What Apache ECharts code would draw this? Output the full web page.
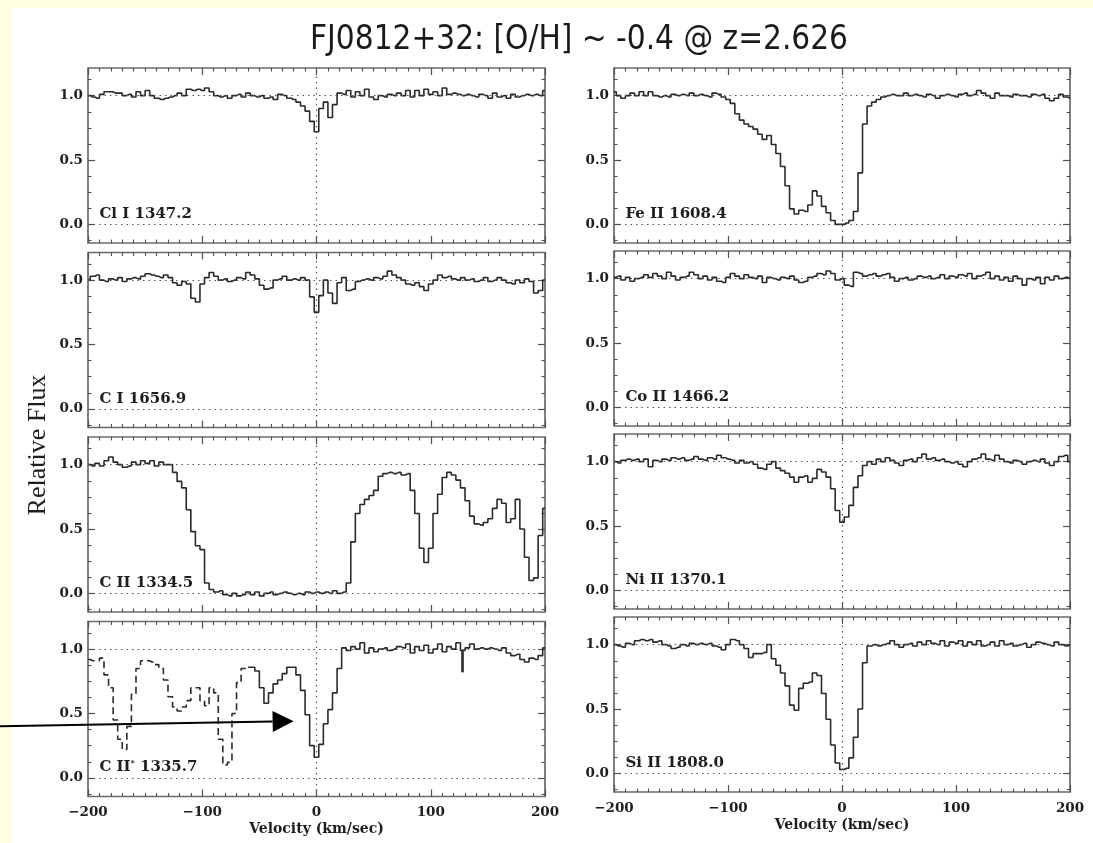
<!DOCTYPE html>
<html>
<head>
<meta charset="utf-8">
<script src="https://cdn.jsdelivr.net/npm/echarts@6/dist/echarts.min.js"></script>
<style>
html,body{margin:0;padding:0;background:#fffde2;}
#frame{position:absolute;left:12px;top:8px;right:0;bottom:0;background:#ffffff;}
#chart{position:absolute;left:0;top:0;width:1093px;height:843px;}
</style>
</head>
<body>
<div id="frame"></div>
<div id="chart"></div>
<script>
// ---------------- DATA ----------------
const TITLE = 'FJ0812+32: [O/H] ~ -0.4 @ z=2.626';
const Y_AXIS_TITLE = 'Relative Flux';
const X_AXIS_TITLE = 'Velocity (km/sec)';
const X_TICKS = [-200, -100, 0, 100, 200];
const Y_TICKS_MAJOR = [0, 0.5, 1.0];
const Y_TICKS_MINOR = [-0.125, 0.125, 0.25, 0.375, 0.625, 0.75, 0.875, 1.125];

const velocity = [
  -200,-196,-192,-188,-184,-180,-176,-172,-168,-164,
  -160,-156,-152,-148,-144,-140,-136,-132,-128,-124,
  -120,-116,-112,-108,-104,-100,-96,-92,-88,-84,
  -80,-76,-72,-68,-64,-60,-56,-52,-48,-44,
  -40,-36,-32,-28,-24,-20,-16,-12,-8,-4,
  0,4,8,12,16,20,24,28,32,36,
  40,44,48,52,56,60,64,68,72,76,
  80,84,88,92,96,100,104,108,112,116,
  120,124,128,132,136,140,144,148,152,156,
  160,164,168,172,176,180,184,188,192,196,
  200
];

const fluxClI = [
  1.00,0.99,0.98,1.01,1.03,1.03,1.02,1.02,1.00,1.01,
  0.99,1.03,1.00,1.04,1.00,0.98,0.97,0.98,0.99,1.00,
  1.02,1.00,1.05,1.04,1.05,1.04,1.06,1.03,1.00,0.99,
  1.00,0.98,1.00,1.01,0.99,1.02,1.00,0.99,1.00,0.98,
  0.99,0.97,1.01,1.00,0.98,0.97,0.95,0.92,0.88,0.80,
  0.72,0.90,0.95,0.83,0.93,1.02,1.01,1.04,0.99,1.03,
  1.00,1.05,0.99,0.97,1.00,0.99,1.01,1.00,1.02,1.00,
  1.04,0.99,1.04,1.00,1.05,1.01,1.03,1.00,1.06,1.01,
  1.02,1.01,1.00,1.01,1.00,0.99,1.01,1.00,0.98,1.02,
  0.99,1.00,0.98,1.01,0.99,1.00,1.01,1.00,1.01,1.00,
  1.04
];

const fluxCI = [
  1.00,1.03,1.04,1.00,0.99,1.01,1.00,1.02,0.99,1.01,
  1.02,1.01,1.03,1.05,1.04,1.03,1.02,1.04,1.02,0.98,
  0.96,0.99,0.97,0.86,0.83,0.97,1.02,1.06,1.03,1.00,
  1.01,0.99,1.00,1.02,1.01,1.06,1.04,1.01,0.96,0.93,
  0.94,1.00,1.01,1.03,1.00,1.01,1.00,1.02,1.00,0.87,
  0.75,0.88,1.00,0.90,0.82,0.98,1.02,0.92,0.93,0.99,
  1.00,1.01,1.00,1.02,1.01,1.03,1.07,1.04,1.02,1.00,
  0.97,0.96,0.98,0.95,0.92,0.97,1.00,1.04,1.02,1.03,
  1.01,1.00,1.02,1.00,1.01,0.99,1.00,1.02,0.99,1.00,
  1.02,1.00,0.98,0.97,1.00,0.98,1.01,0.99,0.90,0.92,
  1.00
];

const fluxCII = [
  1.00,0.99,1.01,0.99,1.03,1.06,1.02,1.00,0.98,0.99,
  1.02,1.00,1.03,1.01,1.03,0.99,1.02,1.00,1.00,0.94,
  0.87,0.82,0.65,0.48,0.37,0.34,0.08,0.03,0.01,0.02,
  -0.01,-0.02,0.00,-0.02,-0.01,0.01,-0.01,0.01,-0.02,0.00,
  0.01,-0.01,0.00,0.01,0.00,-0.01,0.00,-0.01,0.01,0.00,
  0.01,0.00,0.01,0.00,0.02,0.00,0.01,0.08,0.40,0.62,
  0.69,0.73,0.76,0.80,0.91,0.93,0.94,0.93,0.94,0.92,
  0.93,0.80,0.62,0.35,0.24,0.35,0.62,0.77,0.90,0.94,
  0.92,0.88,0.82,0.72,0.60,0.54,0.53,0.55,0.58,0.66,
  0.73,0.70,0.55,0.58,0.73,0.50,0.28,0.10,0.12,0.45,
  0.66
];

const fluxCIIstar = [
  0.92,0.91,0.91,0.93,0.80,0.70,0.45,0.30,0.22,0.40,
  0.65,0.85,0.91,0.91,0.90,0.88,0.85,0.76,0.63,0.55,
  0.52,0.55,0.60,0.70,0.70,0.60,0.56,0.70,0.66,0.30,
  0.10,0.12,0.50,0.74,0.85,0.86,0.86,0.83,0.70,0.58,
  0.66,0.73,0.76,0.81,0.86,0.86,0.80,0.68,0.49,0.25,
  0.16,0.26,0.42,0.53,0.66,0.85,1.01,0.99,1.02,1.00,
  1.05,0.97,1.01,0.98,1.00,1.01,0.99,1.00,1.02,1.01,
  1.04,0.97,1.02,0.99,1.03,0.97,1.00,1.04,0.98,1.02,
  1.00,1.05,0.99,1.01,1.04,1.00,1.01,1.00,1.01,1.00,
  0.99,1.01,0.97,0.95,0.96,0.92,0.90,0.93,0.92,0.95,
  1.01
];

const fluxFeII = [
  1.03,1.00,0.98,1.00,1.02,1.00,1.03,1.00,1.03,1.00,
  0.99,1.00,0.99,1.01,1.00,1.01,1.00,1.02,1.00,1.01,
  1.00,0.99,1.02,1.01,0.99,0.97,0.94,0.86,0.81,0.78,
  0.76,0.74,0.70,0.66,0.69,0.62,0.55,0.45,0.30,0.12,
  0.08,0.11,0.10,0.15,0.26,0.22,0.14,0.09,0.03,0.00,
  0.00,0.01,0.03,0.10,0.40,0.78,0.92,0.95,0.97,0.99,
  1.00,1.01,1.00,1.00,1.02,1.00,1.01,1.00,0.99,1.01,
  1.00,0.98,1.00,1.01,1.00,0.99,1.01,1.02,1.00,1.01,
  1.04,1.02,1.00,0.98,1.02,1.00,1.00,0.99,1.01,1.00,
  1.00,0.99,1.01,1.00,1.01,0.98,0.96,0.98,1.01,0.99,
  0.98
];

const fluxCoII = [
  1.01,1.02,0.99,1.01,0.98,1.00,1.01,1.03,1.01,1.04,
  1.02,1.00,1.05,1.02,0.99,1.01,1.02,1.05,1.03,1.00,
  1.02,0.99,1.01,0.98,0.97,1.01,1.04,1.02,1.00,1.03,
  1.01,1.00,1.02,0.97,1.01,1.00,0.99,1.01,1.00,1.02,
  0.99,0.97,0.98,1.01,1.02,1.04,1.03,1.06,1.04,0.99,
  1.00,0.95,0.94,1.05,1.04,1.02,1.03,1.04,1.02,1.03,
  1.04,1.01,0.98,1.00,1.01,0.99,1.00,1.02,1.01,1.02,
  1.00,1.01,1.03,1.00,1.02,1.01,1.03,1.02,1.04,1.00,
  1.02,1.03,1.05,1.00,1.02,0.99,1.01,0.98,1.02,1.00,
  0.95,1.00,0.99,1.01,0.96,1.01,0.99,1.02,1.00,1.01,
  1.00
];

const fluxNiII = [
  1.00,0.99,1.01,1.02,1.01,1.02,1.00,1.02,0.96,1.01,
  1.00,1.02,1.01,1.03,1.02,1.03,1.01,1.02,1.04,1.02,
  1.01,1.03,1.02,1.05,1.03,1.02,1.01,0.99,1.01,0.99,
  1.00,0.98,0.95,0.94,0.98,1.00,0.95,0.93,0.91,0.88,
  0.84,0.88,0.89,0.84,0.87,0.94,0.92,0.88,0.79,0.62,
  0.53,0.57,0.66,0.80,0.89,0.97,1.00,0.98,1.02,1.00,
  1.03,1.01,0.99,0.97,1.01,1.02,1.00,1.03,1.06,1.02,
  1.03,1.01,1.02,1.00,0.99,1.00,0.98,0.96,1.00,1.02,
  1.03,1.06,1.02,1.01,1.05,1.02,1.00,0.99,1.01,1.00,
  0.98,1.00,1.01,1.00,1.02,0.99,0.97,1.00,1.04,1.05,
  1.00
];

const fluxSiII = [
  1.00,0.99,0.98,1.01,1.00,1.03,1.04,1.03,1.04,1.02,
  1.03,1.00,0.99,0.97,0.98,1.00,0.99,1.01,1.00,1.01,
  1.00,1.01,0.99,0.98,0.96,1.00,1.04,1.03,1.00,0.97,
  0.90,0.93,0.93,0.94,1.00,0.89,0.84,0.78,0.68,0.53,
  0.49,0.66,0.70,0.71,0.78,0.76,0.62,0.42,0.22,0.08,
  0.03,0.04,0.12,0.28,0.50,0.86,0.99,1.00,0.99,1.00,
  1.01,1.03,1.00,0.98,1.00,1.01,0.99,1.02,1.00,1.03,
  1.01,1.00,1.03,0.99,1.02,1.01,1.03,0.99,1.02,1.00,
  1.03,0.99,1.00,1.02,0.99,1.03,1.00,1.01,0.99,1.00,
  1.01,0.98,1.00,1.02,1.01,1.00,0.99,1.02,1.00,0.99,
  1.00
];

const panelLabels = ['Cl I 1347.2', 'C I 1656.9', 'C II 1334.5', 'C II{sup|*} 1335.7',
                     'Fe II 1608.4', 'Co II 1466.2', 'Ni II 1370.1', 'Si II 1808.0'];
const panelFlux = [fluxClI, fluxCI, fluxCII, fluxCIIstar, fluxFeII, fluxCoII, fluxNiII, fluxSiII];

// C II* : blended part drawn dashed up to this velocity
const DASHED_UNTIL = -60;
// tick marker in C II* panel (velocity, top flux, bottom flux)
const MARKER = [128, 0.985, 0.82];
// annotation arrow (data coordinates of C II* panel)
const ARROW_FROM = [-277, 0.40];
const ARROW_TIP = [-20, 0.44];
// label anchor in data coords
const LABEL_AT = [-190, 0.02];

// ---------------- LAYOUT ----------------
const Y_MIN = -0.145, Y_MAX = 1.215;
const COL_LEFT = [88, 614], COL_WIDTH = [457, 456];
const ROW_TOP = [[68, 252.5, 437, 621.5], [68, 251, 434, 617]];
const PANEL_H = 175;
const SERIF = 'DejaVu Serif';
const INK = '#2a2a2a';
const FRAME = '#6a6a6a';
const TICK = '#505050';

const chart = echarts.init(document.getElementById('chart'), null, {renderer: 'canvas'});

const grids = [], xAxes = [], yAxes = [], series = [];
const minus = v => (v < 0 ? '\u2212' + Math.abs(v) : String(v));

panelFlux.forEach((flux, i) => {
  const col = i < 4 ? 0 : 1, row = i % 4;
  const isBottom = row === 3;
  grids.push({
    left: COL_LEFT[col], top: ROW_TOP[col][row], width: COL_WIDTH[col], height: PANEL_H,
    show: true, borderColor: FRAME, borderWidth: 1.7, backgroundColor: 'rgba(0,0,0,0)', containLabel: false
  });
  const xBase = {
    gridIndex: i, type: 'value', min: X_TICKS[0], max: X_TICKS[X_TICKS.length - 1], interval: 100,
    axisLine: {show: false, onZero: false}, splitLine: {show: false}, minorSplitLine: {show: false},
    axisTick: {show: true, inside: true, length: 7, lineStyle: {color: TICK, width: 1.2}},
    minorTick: {show: true, splitNumber: 10, length: 3.5, lineStyle: {color: TICK, width: 1.1}}
  };
  xAxes.push(Object.assign({}, xBase, {
    position: 'bottom',
    axisLabel: {show: isBottom, margin: 9, color: '#1e1e1e', fontFamily: SERIF, fontWeight: 'bold', fontSize: 13.5, formatter: minus},
    name: isBottom ? X_AXIS_TITLE : '', nameLocation: 'middle', nameGap: 26,
    nameTextStyle: {color: '#1e1e1e', fontFamily: SERIF, fontWeight: 'bold', fontSize: 14}
  }));
  xAxes.push(Object.assign({}, xBase, {position: 'top', axisLabel: {show: false}}));

  const yBase = {
    gridIndex: i, type: 'value', min: Y_MIN, max: Y_MAX,
    axisLine: {show: false, onZero: false}, splitLine: {show: false}
  };
  yAxes.push(Object.assign({}, yBase, {
    position: 'left',
    axisTick: {show: true, inside: true, length: 7, customValues: Y_TICKS_MAJOR, lineStyle: {color: TICK, width: 1.2}},
    axisLabel: {show: true, customValues: Y_TICKS_MAJOR, formatter: v => v.toFixed(1), margin: 5,
      color: '#1e1e1e', fontFamily: SERIF, fontWeight: 'bold', fontSize: 13.5}
  }));
  yAxes.push(Object.assign({}, yBase, {
    position: 'left',
    axisTick: {show: true, inside: true, length: 3.5, customValues: Y_TICKS_MINOR, lineStyle: {color: TICK, width: 1.1}},
    axisLabel: {show: false}
  }));
  yAxes.push(Object.assign({}, yBase, {
    position: 'right',
    axisTick: {show: true, inside: true, length: 7, customValues: Y_TICKS_MAJOR, lineStyle: {color: TICK, width: 1.2}},
    axisLabel: {show: false}
  }));
  yAxes.push(Object.assign({}, yBase, {
    position: 'right',
    axisTick: {show: true, inside: true, length: 3.5, customValues: Y_TICKS_MINOR, lineStyle: {color: TICK, width: 1.1}},
    axisLabel: {show: false}
  }));

  const pts = velocity.map((v, k) => [v, flux[k]]);
  const refLines = {
    silent: true, animation: false, symbol: ['none', 'none'], label: {show: false},
    lineStyle: {type: [1.5, 4], color: '#555', width: 1.2},
    data: [{yAxis: 1}, {yAxis: 0}, {xAxis: 0}]
  };
  const common = {
    type: 'line', xAxisIndex: 2 * i, yAxisIndex: 4 * i, step: 'middle',
    showSymbol: false, symbol: 'none', silent: true, animation: false
  };
  if (i === 3) {
    series.push(Object.assign({}, common, {
      data: pts.filter(p => p[0] <= DASHED_UNTIL),
      lineStyle: {color: INK, width: 1.6, type: [7, 4]}
    }));
    refLines.data.push([
      {coord: [MARKER[0], MARKER[1]], lineStyle: {type: 'solid', width: 2.6, color: INK}},
      {coord: [MARKER[0], MARKER[2]], lineStyle: {type: 'solid', width: 2.6, color: INK}}
    ]);
    series.push(Object.assign({}, common, {
      data: pts.filter(p => p[0] >= DASHED_UNTIL),
      lineStyle: {color: INK, width: 1.6},
      markLine: refLines
    }));
  } else {
    series.push(Object.assign({}, common, {
      data: pts,
      lineStyle: {color: INK, width: 1.6},
      markLine: refLines
    }));
  }
});

chart.setOption({
  animation: false,
  backgroundColor: 'transparent',
  grid: grids, xAxis: xAxes, yAxis: yAxes, series: series
});

// ---------------- TEXT & ANNOTATIONS ----------------
const graphics = [];
graphics.push({
  type: 'text', x: 579, y: 40, silent: true,
  style: {text: TITLE, fill: '#1a1a1a', fontSize: 33,
    fontFamily: '"Liberation Sans Narrow", "DejaVu Sans Condensed", "Noto Sans", sans-serif',
    textAlign: 'center', textVerticalAlign: 'middle'}
});
graphics.push({
  type: 'text', x: 38, y: 445, rotation: Math.PI / 2, silent: true,
  style: {text: Y_AXIS_TITLE, fill: '#1e1e1e', fontSize: 26, fontFamily: '"Liberation Serif", serif',
    textAlign: 'center', textVerticalAlign: 'middle'}
});
panelLabels.forEach((lab, i) => {
  const p = chart.convertToPixel({xAxisIndex: 2 * i, yAxisIndex: 4 * i}, LABEL_AT);
  graphics.push({
    type: 'text', x: p[0], y: p[1], silent: true,
    style: {text: lab, fill: '#1e1e1e', fontSize: 15, fontWeight: 'bold', fontFamily: SERIF,
      textAlign: 'left', textVerticalAlign: 'bottom',
      rich: {sup: {fontSize: 8, fontWeight: 'bold', fontFamily: SERIF, fill: '#1e1e1e', verticalAlign: 'top', padding: [0, 0, 8, 0]}}}
  });
});
// arrow
const a0 = chart.convertToPixel({xAxisIndex: 6, yAxisIndex: 12}, ARROW_FROM);
const a1 = chart.convertToPixel({xAxisIndex: 6, yAxisIndex: 12}, ARROW_TIP);
const dx = a1[0] - a0[0], dy = a1[1] - a0[1], len = Math.hypot(dx, dy);
const ux = dx / len, uy = dy / len;
const HEAD = 21, HALF = 10.5;
const base = [a1[0] - HEAD * ux, a1[1] - HEAD * uy];
graphics.push({
  type: 'line', silent: true, z: 100,
  shape: {x1: a0[0], y1: a0[1], x2: base[0], y2: base[1]},
  style: {stroke: '#000', lineWidth: 2}
});
graphics.push({
  type: 'polygon', silent: true, z: 100,
  shape: {points: [a1, [base[0] - HALF * uy, base[1] + HALF * ux], [base[0] + HALF * uy, base[1] - HALF * ux]]},
  style: {fill: '#000'}
});
chart.setOption({graphic: graphics});
</script>
</body>
</html>
